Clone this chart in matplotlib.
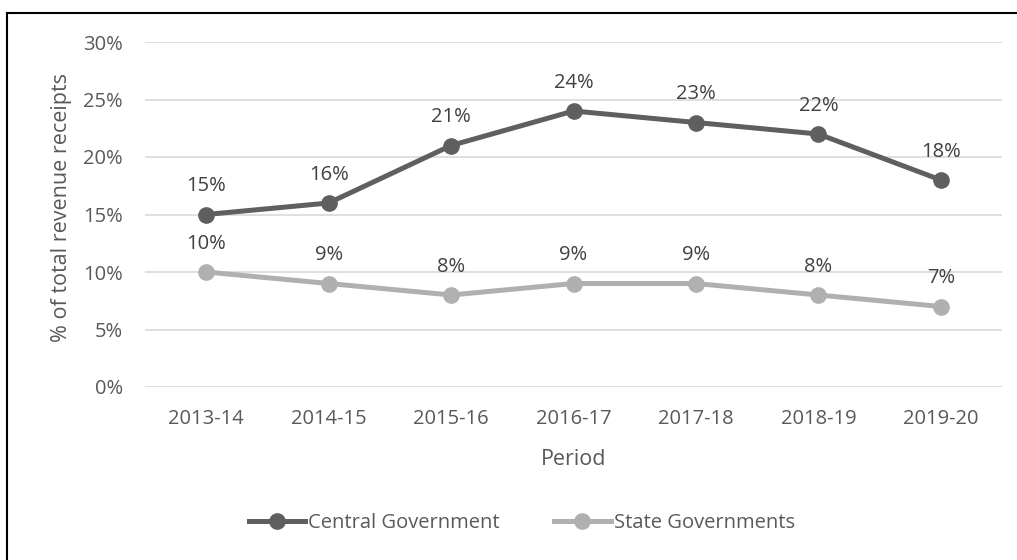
import matplotlib
matplotlib.use("Agg")
import matplotlib.pyplot as plt
from matplotlib.lines import Line2D
from matplotlib.ticker import PercentFormatter

periods = ["2013-14", "2014-15", "2015-16", "2016-17", "2017-18", "2018-19", "2019-20"]
central = [15, 16, 21, 24, 23, 22, 18]
state = [10, 9, 8, 9, 9, 8, 7]
y_ticks = [0, 5, 10, 15, 20, 25, 30]

plt.rcParams["font.family"] = ["Open Sans", "DejaVu Sans"]
text_color = "#595959"
central_color = "#5f5f5f"
state_color = "#b0b0b0"
fs = 14.5

fig = plt.figure(figsize=(10.17, 5.60), dpi=100)
ax = fig.add_axes([145 / 1017, 1 - 387 / 560, (1002 - 145) / 1017, (387 - 42) / 560])

x = list(range(len(periods)))
ax.plot(x, central, color=central_color, lw=3.6, marker="o", ms=11,
        label="Central Government", solid_capstyle="round", zorder=3)
ax.plot(x, state, color=state_color, lw=3.6, marker="o", ms=11,
        label="State Governments", solid_capstyle="round", zorder=3)

for xi, v in zip(x, central):
    ax.annotate(f"{v}%", (xi, v), xytext=(0, 13), textcoords="offset points",
                ha="center", va="bottom", fontsize=fs, color="#404040")
for xi, v in zip(x, state):
    ax.annotate(f"{v}%", (xi, v), xytext=(0, 13), textcoords="offset points",
                ha="center", va="bottom", fontsize=fs, color="#404040")

ax.set_xlim(-0.5, len(periods) - 0.5)
ax.set_ylim(0, 30)
ax.set_yticks(y_ticks)
ax.yaxis.set_major_formatter(PercentFormatter(decimals=0))
ax.set_xticks(x)
ax.set_xticklabels(periods)
ax.tick_params(axis="both", length=0, labelsize=fs, colors=text_color)
ax.tick_params(axis="x", pad=16)
ax.tick_params(axis="y", pad=16)
ax.grid(axis="y", color="#d9d9d9", lw=1.2)
ax.set_axisbelow(True)
for s in ax.spines.values():
    s.set_visible(False)

ax.set_xlabel("Period", fontsize=15.5, color=text_color, labelpad=14)
ax.set_ylabel("% of total revenue receipts", fontsize=15.5, color=text_color)
ax.yaxis.set_label_coords(-73 / 857, 0.52)

handles = [
    Line2D([], [], color=central_color, lw=3.6, marker="o", ms=11),
    Line2D([], [], color=state_color, lw=3.6, marker="o", ms=11),
]
fig.legend(handles, ["Central Government", "State Governments"],
           loc="center", bbox_to_anchor=(0.513, 1 - 523 / 560), ncol=2,
           frameon=False, fontsize=fs, handlelength=2.8, handletextpad=0.15,
           columnspacing=2.7, labelcolor=text_color)

# frame edges along the top and left of the figure
fig.add_artist(Line2D([7 / 1017, 1.0], [1 - 12.5 / 560] * 2, color="black", lw=1.5,
                      transform=fig.transFigure))
fig.add_artist(Line2D([7 / 1017] * 2, [0.0, 1 - 12.5 / 560], color="black", lw=1.5,
                      transform=fig.transFigure))

fig.savefig("out.png", dpi=100)
